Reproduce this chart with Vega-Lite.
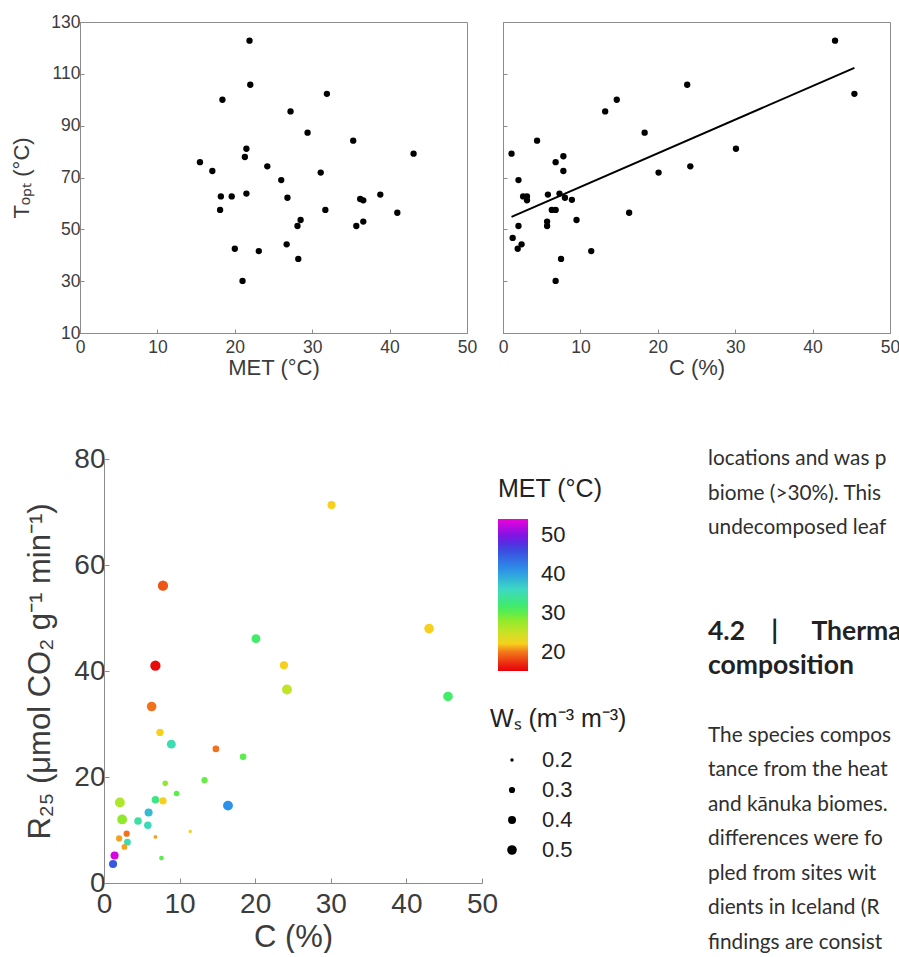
{
  "$schema": "https://vega.github.io/schema/vega-lite/v6.json",
  "background": "white",
  "padding": {"left": 9, "top": 12, "right": 0, "bottom": 0},
  "config": {
    "font": "Liberation Sans",
    "view": {"stroke": "#8c8c8c", "strokeWidth": 1},
    "axis": {
      "grid": false,
      "domainColor": "#8c8c8c",
      "tickColor": "#8c8c8c",
      "tickSize": -4,
      "labelFlush": false,
      "labelColor": "#3c3c3c",
      "titleColor": "#3c3c3c",
      "titleFontWeight": "normal",
      "labelFont": "Liberation Sans",
      "titleFont": "Liberation Sans"
    }
  },
  "datasets": {
    "metTopt": [
      {"MET": 15.5, "Topt": 75.9}, {"MET": 17.1, "Topt": 72.5}, {"MET": 18.2, "Topt": 62.7}, {"MET": 18.1, "Topt": 57.5},
      {"MET": 18.4, "Topt": 100.0}, {"MET": 19.6, "Topt": 62.7}, {"MET": 20.0, "Topt": 42.5}, {"MET": 21.0, "Topt": 30.1},
      {"MET": 21.3, "Topt": 77.9}, {"MET": 21.5, "Topt": 81.1}, {"MET": 21.5, "Topt": 63.8}, {"MET": 21.9, "Topt": 122.8},
      {"MET": 22.0, "Topt": 105.8}, {"MET": 23.1, "Topt": 41.6}, {"MET": 24.2, "Topt": 74.3}, {"MET": 26.0, "Topt": 69.0},
      {"MET": 26.7, "Topt": 44.2}, {"MET": 26.8, "Topt": 62.2}, {"MET": 27.2, "Topt": 95.5}, {"MET": 28.1, "Topt": 51.3},
      {"MET": 28.2, "Topt": 38.6}, {"MET": 28.5, "Topt": 53.6}, {"MET": 29.4, "Topt": 87.3}, {"MET": 31.1, "Topt": 71.9},
      {"MET": 31.7, "Topt": 57.5}, {"MET": 31.9, "Topt": 102.3}, {"MET": 35.3, "Topt": 84.2}, {"MET": 35.7, "Topt": 51.3},
      {"MET": 36.2, "Topt": 61.7}, {"MET": 36.6, "Topt": 61.2}, {"MET": 36.6, "Topt": 53.0}, {"MET": 38.8, "Topt": 63.4},
      {"MET": 41.0, "Topt": 56.4}, {"MET": 43.1, "Topt": 79.2}
    ],
    "cTopt": [
      {"C": 1.1, "Topt": 79.2}, {"C": 4.4, "Topt": 84.2}, {"C": 2.0, "Topt": 69.0}, {"C": 2.6, "Topt": 62.7},
      {"C": 3.1, "Topt": 62.7}, {"C": 3.1, "Topt": 61.2}, {"C": 2.0, "Topt": 51.3}, {"C": 1.25, "Topt": 46.7},
      {"C": 2.4, "Topt": 44.2}, {"C": 1.9, "Topt": 42.5}, {"C": 5.8, "Topt": 63.4}, {"C": 5.7, "Topt": 53.0},
      {"C": 5.7, "Topt": 51.3}, {"C": 6.8, "Topt": 75.9}, {"C": 7.8, "Topt": 78.2}, {"C": 7.8, "Topt": 72.5},
      {"C": 7.3, "Topt": 63.8}, {"C": 8.0, "Topt": 62.2}, {"C": 8.9, "Topt": 61.4}, {"C": 6.3, "Topt": 57.5},
      {"C": 6.8, "Topt": 57.5}, {"C": 9.5, "Topt": 53.6}, {"C": 7.5, "Topt": 38.6}, {"C": 6.8, "Topt": 30.1},
      {"C": 11.4, "Topt": 41.6}, {"C": 13.2, "Topt": 95.5}, {"C": 14.7, "Topt": 100.0}, {"C": 16.3, "Topt": 56.4},
      {"C": 18.3, "Topt": 87.3}, {"C": 20.1, "Topt": 71.9}, {"C": 23.8, "Topt": 105.8}, {"C": 24.2, "Topt": 74.3},
      {"C": 30.1, "Topt": 81.1}, {"C": 42.9, "Topt": 122.8}, {"C": 45.4, "Topt": 102.3}
    ],
    "fit": [
      {"C": 1.1, "Topt": 54.8}, {"C": 45.4, "Topt": 112.3}
    ],
    "resp": [
      {"C": 30.1, "R25": 71.3, "MET": 22, "Ws": 0.4},
      {"C": 7.8, "R25": 56.1, "MET": 18.5, "Ws": 0.55},
      {"C": 43.0, "R25": 48.0, "MET": 22, "Ws": 0.5},
      {"C": 20.1, "R25": 46.1, "MET": 31.5, "Ws": 0.45},
      {"C": 6.8, "R25": 41.0, "MET": 15.5, "Ws": 0.55},
      {"C": 23.8, "R25": 41.1, "MET": 22, "Ws": 0.4},
      {"C": 24.2, "R25": 36.5, "MET": 25.5, "Ws": 0.52},
      {"C": 45.5, "R25": 35.2, "MET": 31.5, "Ws": 0.5},
      {"C": 6.3, "R25": 33.3, "MET": 19.5, "Ws": 0.5},
      {"C": 7.4, "R25": 28.4, "MET": 22, "Ws": 0.35},
      {"C": 8.9, "R25": 26.2, "MET": 35, "Ws": 0.45},
      {"C": 14.8, "R25": 25.3, "MET": 19.5, "Ws": 0.32},
      {"C": 18.4, "R25": 23.8, "MET": 30, "Ws": 0.32},
      {"C": 13.3, "R25": 19.4, "MET": 29.5, "Ws": 0.3},
      {"C": 8.1, "R25": 18.8, "MET": 28, "Ws": 0.27},
      {"C": 9.6, "R25": 16.9, "MET": 30, "Ws": 0.27},
      {"C": 2.1, "R25": 15.2, "MET": 26.5, "Ws": 0.52},
      {"C": 6.8, "R25": 15.7, "MET": 33, "Ws": 0.37},
      {"C": 7.8, "R25": 15.5, "MET": 22, "Ws": 0.36},
      {"C": 16.4, "R25": 14.6, "MET": 41, "Ws": 0.52},
      {"C": 5.9, "R25": 13.3, "MET": 38, "Ws": 0.4},
      {"C": 2.4, "R25": 12.0, "MET": 28, "Ws": 0.52},
      {"C": 4.5, "R25": 11.7, "MET": 34.5, "Ws": 0.37},
      {"C": 5.8, "R25": 10.9, "MET": 35.5, "Ws": 0.37},
      {"C": 11.4, "R25": 9.7, "MET": 22.5, "Ws": 0.2},
      {"C": 6.8, "R25": 8.7, "MET": 21, "Ws": 0.21},
      {"C": 2.0, "R25": 8.4, "MET": 21, "Ws": 0.3},
      {"C": 3.0, "R25": 9.3, "MET": 19.5, "Ws": 0.3},
      {"C": 3.1, "R25": 7.7, "MET": 35, "Ws": 0.33},
      {"C": 2.7, "R25": 6.8, "MET": 21, "Ws": 0.28},
      {"C": 1.4, "R25": 5.2, "MET": 53, "Ws": 0.4},
      {"C": 1.2, "R25": 3.6, "MET": 45, "Ws": 0.4},
      {"C": 7.6, "R25": 4.7, "MET": 30, "Ws": 0.24}
    ],
    "text": [
      {"line": 0, "kind": "body", "text": "locations and was p"},
      {"line": 1, "kind": "body", "text": "biome (>30%). This"},
      {"line": 2, "kind": "body", "text": "undecomposed leaf"},
      {"line": 5, "kind": "heading", "text": "4.2 \u2003|\u2003\u2002Therma"},
      {"line": 6, "kind": "heading", "text": "composition"},
      {"line": 8, "kind": "body", "text": "The species compos"},
      {"line": 9, "kind": "body", "text": "tance from the heat"},
      {"line": 10, "kind": "body", "text": "and kānuka biomes."},
      {"line": 11, "kind": "body", "text": "differences were fo"},
      {"line": 12, "kind": "body", "text": "pled from sites wit"},
      {"line": 13, "kind": "body", "text": "dients in Iceland (R"},
      {"line": 14, "kind": "body", "text": "findings are consist"}
    ]
  },
  "spacing": 66,
  "resolve": {
    "scale": {"color": "independent", "size": "independent"},
    "legend": {"color": "independent", "size": "independent"}
  },
  "vconcat": [
    {
      "spacing": 19,
      "hconcat": [
        {
          "width": 387,
          "height": 311,
          "layer": [
            {
              "data": {"name": "metTopt"},
              "mark": {"type": "circle", "size": 40, "color": "black", "opacity": 1},
              "encoding": {
                "x": {"field": "MET", "type": "quantitative", "scale": {"domain": [0, 50]},
                  "axis": {"values": [0, 10, 20, 30, 40, 50], "title": "MET (°C)", "labelFontSize": 17.5, "titleFontSize": 22, "labelPadding": 9, "titlePadding": 2}},
                "y": {"field": "Topt", "type": "quantitative", "scale": {"domain": [10, 130]},
                  "axis": {"values": [10, 30, 50, 70, 90, 110, 130], "title": "Tₒₚₜ (°C)", "labelFontSize": 17.5, "titleFontSize": 22, "labelPadding": 4, "titlePadding": 17.5}}
              }
            },
            {
              "mark": {"type": "text", "text": "(a)", "fontSize": 21, "fontWeight": "bold", "align": "left", "baseline": "middle", "color": "black"},
              "encoding": {"x": {"datum": 1.2, "type": "quantitative"}, "y": {"datum": 122.5, "type": "quantitative"}}
            }
          ]
        },
        {
          "width": 387,
          "height": 311,
          "layer": [
            {
              "data": {"name": "cTopt"},
              "mark": {"type": "circle", "size": 40, "color": "black", "opacity": 1},
              "encoding": {
                "x": {"field": "C", "type": "quantitative", "scale": {"domain": [0, 50]},
                  "axis": {"values": [0, 10, 20, 30, 40, 50], "title": "C (%)", "labelFontSize": 17.5, "titleFontSize": 22, "labelPadding": 9, "titlePadding": 2}},
                "y": {"field": "Topt", "type": "quantitative", "scale": {"domain": [10, 130]},
                  "axis": {"values": [10, 30, 50, 70, 90, 110, 130], "title": null, "labels": false}}
              }
            },
            {
              "data": {"name": "fit"},
              "mark": {"type": "line", "color": "black", "strokeWidth": 2},
              "encoding": {"x": {"field": "C", "type": "quantitative"}, "y": {"field": "Topt", "type": "quantitative"}}
            },
            {
              "mark": {"type": "text", "text": "(b)", "fontSize": 21, "fontWeight": "bold", "align": "left", "baseline": "middle", "color": "black"},
              "encoding": {"x": {"datum": 1.2, "type": "quantitative"}, "y": {"datum": 122.5, "type": "quantitative"}}
            }
          ]
        }
      ]
    },
    {
      "spacing": 71,
      "resolve": {
        "scale": {"color": "independent", "size": "independent"},
        "legend": {"color": "independent", "size": "independent"}
      },
      "hconcat": [
        {
          "width": 402,
          "height": 424,
          "view": {"stroke": null},
          "layer": [
            {
              "mark": {"type": "rect", "filled": false, "stroke": "#8c8c8c", "strokeWidth": 1},
              "encoding": {
                "x": {"datum": 0, "type": "quantitative"},
                "x2": {"datum": 50},
                "y": {"datum": 0, "type": "quantitative"},
                "y2": {"datum": 80}
              }
            },
            {
              "data": {"name": "resp"},
              "mark": {"type": "circle", "opacity": 1},
              "encoding": {
                "x": {"field": "C", "type": "quantitative", "scale": {"domain": [0, 50], "range": [24, 402]},
                  "axis": {"values": [0, 10, 20, 30, 40, 50], "title": "C (%)", "labelFontSize": 28, "titleFontSize": 31, "labelPadding": 12, "titlePadding": 4, "tickSize": -5}},
                "y": {"field": "R25", "type": "quantitative", "scale": {"domain": [0, 80]},
                  "axis": {"values": [0, 20, 40, 60, 80], "title": "R₂₅ (μmol CO₂ g⁻¹ min⁻¹)", "labelFontSize": 28, "titleFontSize": 31, "labelPadding": 4, "titlePadding": 17, "tickSize": -5, "offset": -24}},
                "color": {"field": "MET", "type": "quantitative",
                  "scale": {"domain": [15, 17, 19, 20.5, 22, 25, 28, 31, 36, 41, 46, 49, 54],
                    "range": ["#e8000a", "#ec2a10", "#f06418", "#f58a1e", "#f6d01c", "#c8e428", "#90ea2c", "#40ee5e", "#3cd8c4", "#2a92ea", "#3c4ade", "#6a18e4", "#ee00dc"],
                    "interpolate": "rgb"},
                  "legend": {"title": "MET (°C)", "values": [20, 30, 40, 50], "direction": "vertical", "gradientLength": 152, "gradientThickness": 30, "gradientStrokeWidth": 0,
                    "labelFontSize": 22, "titleFontSize": 25, "titleFontWeight": "normal", "titlePadding": 17, "labelOffset": 13, "padding": 18, "offset": -2,
                    "labelColor": "#222222", "titleColor": "#222222", "labelFont": "Liberation Sans", "titleFont": "Liberation Sans"}},
                "size": {"field": "Ws", "type": "quantitative",
                  "scale": {"domain": [0.2, 0.5], "range": [12, 92]},
                  "legend": {"title": "Wₛ (m⁻³ m⁻³)", "values": [0.2, 0.3, 0.4, 0.5], "format": ".1f", "symbolFillColor": "black", "symbolStrokeWidth": 0, "symbolType": "circle", "symbolOpacity": 1,
                    "labelFontSize": 22, "titleFontSize": 25, "titleFontWeight": "normal", "titlePadding": 17, "rowPadding": 8, "symbolOffset": 11, "labelOffset": 19, "padding": 10, "offset": -2,
                    "labelColor": "#222222", "titleColor": "#222222", "labelFont": "Liberation Sans", "titleFont": "Liberation Sans"}}
              }
            }
          ]
        },
        {
          "width": 185,
          "height": 484,
          "view": {"stroke": null},
          "data": {"name": "text"},
          "encoding": {
            "x": {"datum": 0, "type": "quantitative", "scale": {"domain": [0, 1]}, "axis": null},
            "y": {"field": "line", "type": "ordinal", "scale": {"type": "point", "padding": 0, "domain": [0, 1, 2, 3, 4, 5, 6, 7, 8, 9, 10, 11, 12, 13, 14]}, "axis": null},
            "text": {"field": "text"}
          },
          "layer": [
            {
              "transform": [{"filter": "datum.kind === 'body'"}],
              "mark": {"type": "text", "align": "left", "baseline": "middle", "font": "Lato", "fontSize": 20.8, "color": "#2f2f2f"}
            },
            {
              "transform": [{"filter": "datum.kind === 'heading'"}],
              "mark": {"type": "text", "align": "left", "baseline": "middle", "font": "Lato", "fontSize": 26.5, "fontWeight": "bold", "color": "#222222"}
            }
          ]
        }
      ]
    }
  ]
}
